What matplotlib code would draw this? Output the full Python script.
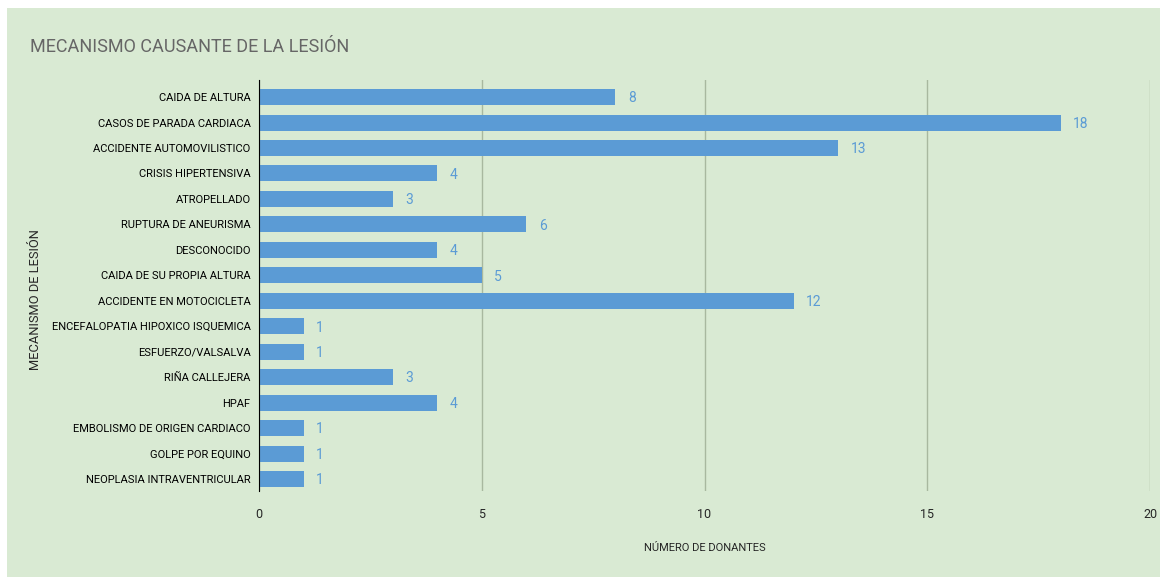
import matplotlib.pyplot as plt
from matplotlib.patches import Rectangle

categorias = ['CAIDA DE ALTURA', 'CASOS DE PARADA CARDIACA', 'ACCIDENTE AUTOMOVILISTICO',
              'CRISIS HIPERTENSIVA', 'ATROPELLADO', 'RUPTURA DE ANEURISMA', 'DESCONOCIDO',
              'CAIDA DE SU PROPIA ALTURA', 'ACCIDENTE EN MOTOCICLETA',
              'ENCEFALOPATIA HIPOXICO ISQUEMICA', 'ESFUERZO/VALSALVA', 'RIÑA CALLEJERA',
              'HPAF', 'EMBOLISMO DE ORIGEN CARDIACO', 'GOLPE POR EQUINO',
              'NEOPLASIA INTRAVENTRICULAR']
donantes = [8, 18, 13, 4, 3, 6, 4, 5, 12, 1, 1, 3, 4, 1, 1, 1]
xticks = [0, 5, 10, 15, 20]

plt.rcParams['font.family'] = ['Roboto', 'DejaVu Sans']

fondo = '#d9ead3'
azul = '#5b9bd5'

fig = plt.figure(figsize=(11.67, 5.78), dpi=100, facecolor='white')
fig.patches.append(Rectangle((7/1167, 1/578), 1153/1167, 569/578, transform=fig.transFigure,
                             facecolor=fondo, edgecolor='none', zorder=-10))
ax = fig.add_axes([259/1167, 1-491/578, 891/1167, 411/578])
ax.set_facecolor('none')

pos = list(range(len(categorias)))
ax.barh(pos, donantes, height=0.63, color=azul, zorder=3)
for p, v in zip(pos, donantes):
    ax.text(v + 0.28, p + 0.05, str(v), va='center', ha='left', color=azul, fontsize=10, zorder=4)

ax.set_yticks(pos)
ax.set_yticklabels(categorias, fontsize=8, color='black')
ax.set_ylim(15.47, -0.67)
ax.set_xlim(0, 20)
ax.set_xticks(xticks)
ax.set_xticklabels([str(t) for t in xticks], fontsize=9, color='#262626')
ax.tick_params(axis='both', length=0)
ax.tick_params(axis='x', pad=12)
ax.tick_params(axis='y', pad=6)
ax.grid(axis='x', color='#a8b89f', linewidth=1, zorder=1)
for s in ['top', 'right', 'bottom']:
    ax.spines[s].set_visible(False)
ax.spines['left'].set_color('black')
ax.spines['left'].set_zorder(5)

fig.text(30/1167, 1-47/578, 'MECANISMO CAUSANTE DE LA LESIÓN', fontsize=13, color='#666666',
         va='center', ha='left')
fig.text(705/1167, 1-548/578, 'NÚMERO DE DONANTES', fontsize=8, color='#262626',
         va='center', ha='center')
fig.text(36/1167, 1-300/578, 'MECANISMO DE LESIÓN', fontsize=9.3, color='#262626',
         va='center', ha='center', rotation=90)

fig.savefig('out.png', dpi=100, facecolor='white')
